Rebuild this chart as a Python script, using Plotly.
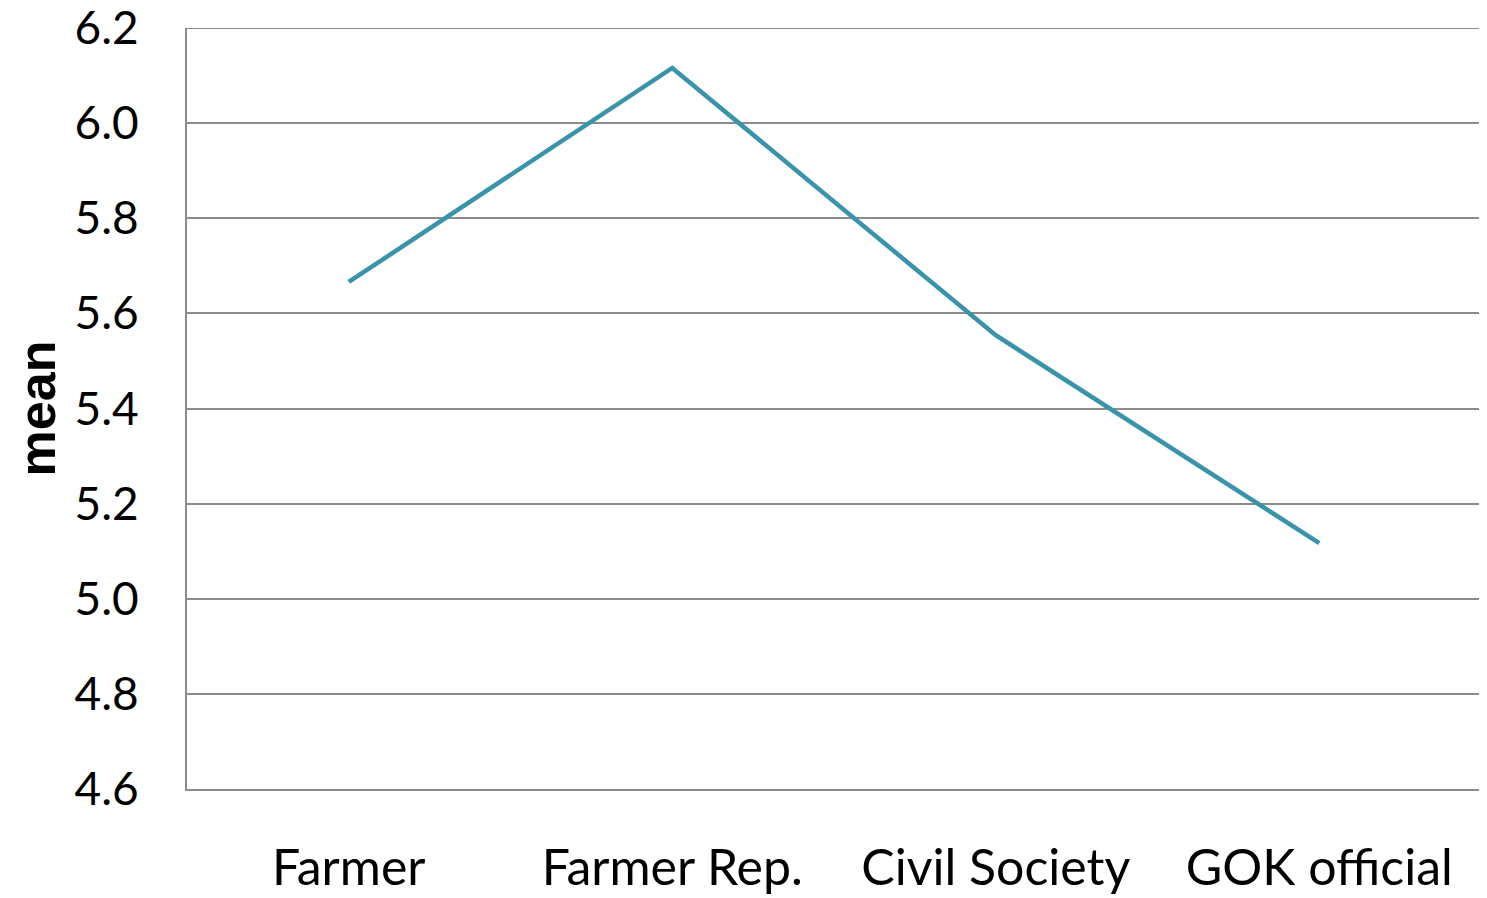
import plotly.graph_objects as go

categories = ["Farmer", "Farmer Rep.", "Civil Society", "GOK official"]
mean_values = [5.666, 6.116, 5.554, 5.117]
y_ticks = [4.6, 4.8, 5.0, 5.2, 5.4, 5.6, 5.8, 6.0, 6.2]
y_tick_labels = ["4.6", "4.8", "5.0", "5.2", "5.4", "5.6", "5.8", "6.0", "6.2"]
y_range = [4.6, 6.2]
grid_color = "#8c8c8c"

fig = go.Figure()
fig.add_trace(go.Scatter(
    x=categories, y=mean_values, mode="lines",
    line=dict(color="#3993AA", width=4.5),
    showlegend=False,
))

fig.update_layout(
    width=1479, height=890,
    margin=dict(l=179, r=6, t=20, b=109),
    plot_bgcolor="white", paper_bgcolor="white",
    font=dict(family="Lato, sans-serif", color="black", size=46),
)
fig.update_xaxes(
    showgrid=False, showline=True, linecolor=grid_color, linewidth=2,
    ticks="", ticklabelstandoff=34, tickfont=dict(size=50),
    range=[-0.5, 3.5], automargin=False,
)
fig.update_yaxes(
    range=y_range, tickvals=y_ticks, ticktext=y_tick_labels,
    showgrid=True, gridcolor=grid_color, gridwidth=2,
    showline=True, linecolor=grid_color, linewidth=2,
    ticks="", ticklabelstandoff=37, tickfont=dict(size=46),
    ticklabeloverflow="allow",
    zeroline=False, automargin=False,
    title=dict(text="<b>mean</b>", font=dict(family="Liberation Sans, Arial, sans-serif", size=52), standoff=36),
)
# top gridline at the upper end of the axis range
fig.add_shape(type="line", xref="paper", x0=0, x1=1, yref="y", y0=y_range[1], y1=y_range[1],
              line=dict(color=grid_color, width=2), layer="below")

fig.write_html("out.html")
